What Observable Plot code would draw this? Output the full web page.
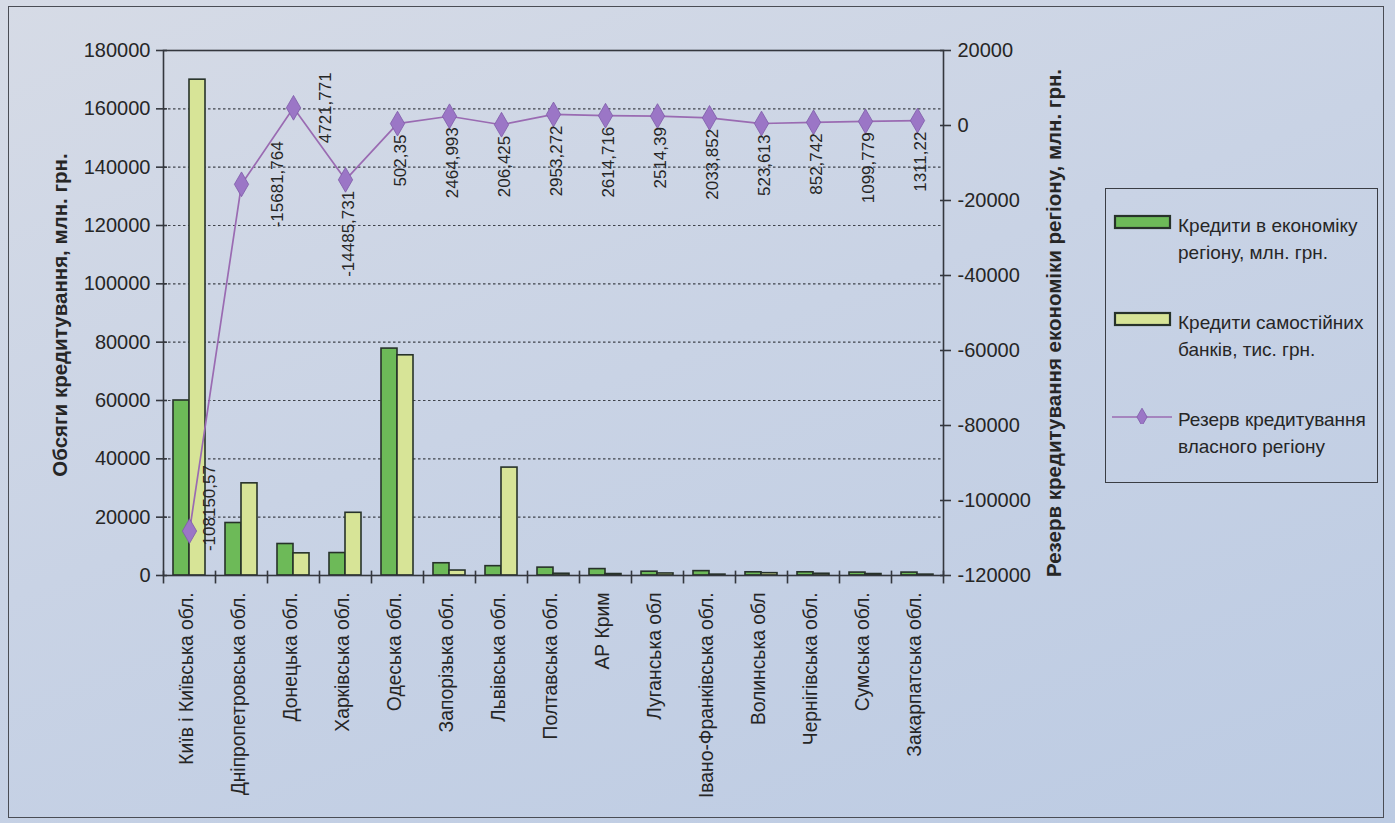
<!DOCTYPE html>
<html>
<head>
<meta charset="utf-8">
<script src="https://cdn.jsdelivr.net/npm/d3@7"></script>
<script src="https://cdn.jsdelivr.net/npm/@observablehq/plot@0.6"></script>
<style>
  html, body { margin: 0; padding: 0; }
  body {
    width: 1395px; height: 823px; overflow: hidden; position: relative;
    background: linear-gradient(160deg, #d6dbe6 0%, #c9d3e5 45%, #bccbe3 100%);
    font-family: "Liberation Sans", Arial, sans-serif; color: #262626;
  }
  #border {
    position: absolute; left: 8px; top: 6px; width: 1376px; height: 812px;
    border: 1.5px solid #4a4d55; box-sizing: border-box;
  }
  #chart { position: absolute; left: 0; top: 0; }
  #legend {
    position: absolute; left: 1105px; top: 188px; width: 273px; height: 295px;
    border: 1.5px solid #3a3d44; box-sizing: border-box;
    font-size: 19px; line-height: 27px;
  }
  .item { position: absolute; left: 6px; display: flex; align-items: flex-start; }
  .item svg { flex: none; margin-top: 2px; }
  .item span { margin-left: 6px; white-space: nowrap; }
</style>
</head>
<body>
<div id="border"></div>
<div id="chart"></div>
<div id="legend"></div>
<script>
// Regions of Ukraine (category axis)
const regions = [
  "Київ і Київська обл.", "Дніпропетровська обл.", "Донецька обл.", "Харківська обл.",
  "Одеська обл.", "Запорізька обл.", "Львівська обл.", "Полтавська обл.", "АР Крим",
  "Луганська обл", "Івано-Франківська обл.", "Волинська обл", "Чернігівська обл.",
  "Сумська обл.", "Закарпатська обл."
];
// Loans to the regional economy, mln UAH (left axis)
const economyCredits = [60000, 18000, 10800, 7700, 77800, 4200, 3200, 2700, 2200, 1300, 1500, 1100, 1100, 1000, 1000];
// Loans of independent banks, thous. UAH (left axis)
const bankCredits = [170000, 31600, 7600, 21500, 75500, 1700, 37000, 600, 500, 700, 300, 800, 600, 500, 300];
// Lending reserve of the region's own economy, mln UAH (right axis)
const reserve = [-108150.57, -15681.764, 4721.771, -14485.731, 502.35, 2464.993, 206.425,
  2953.272, 2614.716, 2514.39, 2033.852, 523.613, 852.742, 1099.779, 1311.22];

const leftTicks = d3.range(0, 180001, 20000);
const rightTicks = d3.range(-120000, 20001, 20000);
const leftTitle = "Обсяги кредитування, млн. грн.";
const rightTitle = "Резерв кредитування економіки регіону, млн. грн.";
const legendItems = [
  ["Кредити в економіку", "регіону, млн. грн."],
  ["Кредити самостійних", "банків, тис. грн."],
  ["Резерв кредитування", "власного регіону"]
];

const rows = regions.map((region, i) => ({
  region, economy: economyCredits[i], banks: bankCredits[i], reserve: reserve[i]
}));

// The right axis [-120000, 20000] shares the frame with the left axis [0, 180000]
const L0 = 0, L1 = 180000, R0 = -120000, R1 = 20000;
const toLeft = v => L0 + (v - R0) * (L1 - L0) / (R1 - R0);
const fromLeft = v => R0 + (v - L0) * (R1 - R0) / (L1 - L0);
const fmtComma = v => String(v).replace(".", ",");

const GREEN = "#6dba58", YELLOW = "#d7e497", OUTLINE = "#27322a";
const PURPLE = "#9a6bb2", DIAMOND = "#9b76c6";
const INK = "#262626", AXIS = "#34373e";

// Labels set beside the point (offset dx, dy) instead of beneath it
const labelRight = new Map([[regions[0], [20, -23]], [regions[1], [36, 0]], [regions[2], [32, 0]]]);
const besideRows = rows.filter(d => labelRight.has(d.region));

const chart = Plot.plot({
  width: 1395, height: 823,
  marginLeft: 163, marginRight: 452, marginTop: 50, marginBottom: 248,
  style: { background: "transparent", fontFamily: "Liberation Sans, Arial, sans-serif", color: INK },
  x: { domain: regions, padding: 0, axis: null },
  y: { domain: [L0, L1], axis: null },
  marks: [
    Plot.gridY(leftTicks.slice(1, -1), { stroke: "#30333a", strokeOpacity: 0.9, strokeWidth: 1.2, strokeDasharray: "2.5,2.5" }),
    // clustered bars
    Plot.barY(rows, { x: "region", y: "economy", fill: GREEN, stroke: OUTLINE, strokeWidth: 1.6, insetLeft: 10, insetRight: 26 }),
    Plot.barY(rows, { x: "region", y: "banks", fill: YELLOW, stroke: OUTLINE, strokeWidth: 1.6, insetLeft: 26, insetRight: 10 }),
    Plot.frame({ stroke: AXIS, strokeWidth: 1.6 }),
    // category separators crossing the bottom axis
    Plot.ruleX(rows, { x: "region", dx: -26, y1: -2900, y2: 1500, stroke: AXIS, strokeWidth: 1.6 }),
    Plot.ruleX(rows.slice(-1), { x: "region", dx: 26, y1: -2900, y2: 1500, stroke: AXIS, strokeWidth: 1.6 }),
    // left axis
    Plot.axisY({ ticks: leftTicks, anchor: "left", tickSize: 11, dx: 4, tickFormat: () => "", stroke: AXIS, strokeWidth: 1.6 }),
    Plot.axisY({ ticks: leftTicks, anchor: "left", tickSize: 0, tickPadding: 13, tickFormat: d => String(d), fontSize: 20, fill: INK, label: null }),
    // right axis
    Plot.axisY({ ticks: rightTicks.map(toLeft), anchor: "right", tickSize: 11, dx: -4, tickFormat: () => "", stroke: AXIS, strokeWidth: 1.6 }),
    Plot.axisY({ ticks: rightTicks.map(toLeft), anchor: "right", tickSize: 0, tickPadding: 14, tickFormat: d => String(Math.round(fromLeft(d))), fontSize: 20, fill: INK, label: null }),
    // category labels
    Plot.axisX({ anchor: "bottom", tickSize: 0, tickPadding: 17, tickRotate: -90, dx: -3, fontSize: 19.3, fill: INK, label: null }),
    // axis titles
    Plot.text([leftTitle], { frameAnchor: "left", textAnchor: "middle", dx: -103, dy: 2, rotate: -90, fontSize: 20.5, fontWeight: "bold", fill: INK }),
    Plot.text([rightTitle], { frameAnchor: "right", textAnchor: "middle", dx: 111, dy: 10, rotate: -90, fontSize: 20.5, fontWeight: "bold", fill: INK }),
    // reserve line on the right axis
    Plot.line(rows, { x: "region", y: d => toLeft(d.reserve), stroke: PURPLE, strokeWidth: 1.7 }),
    Plot.dot(rows, { x: "region", y: d => toLeft(d.reserve), symbol: "diamond", r: 7.5, fill: DIAMOND, stroke: "#7e5aa8", strokeWidth: 0.8 }),
    Plot.text(rows.filter(d => !labelRight.has(d.region)), {
      x: "region", y: d => toLeft(d.reserve), text: d => fmtComma(d.reserve),
      rotate: -90, textAnchor: "end", dx: 3, dy: 11, fontSize: 17, fill: INK
    }),
    ...besideRows.map(d => Plot.text([d], {
      x: "region", y: r => toLeft(r.reserve), text: r => fmtComma(r.reserve),
      rotate: -90, textAnchor: "middle", dx: labelRight.get(d.region)[0], dy: labelRight.get(d.region)[1],
      fontSize: 17, fill: INK
    }))
  ]
});
document.getElementById("chart").append(chart);

// legend
const legend = d3.select("#legend");
const swatches = [
  { fill: GREEN, kind: "bar" },
  { fill: YELLOW, kind: "bar" },
  { fill: DIAMOND, kind: "line" }
];
legendItems.forEach((lines, i) => {
  const item = legend.append("div").attr("class", "item").style("top", (23 + i * 97) + "px");
  const svg = item.append("svg").attr("width", 60).attr("height", 16);
  const s = swatches[i];
  if (s.kind === "bar") {
    svg.append("rect").attr("x", 3).attr("y", 2).attr("width", 55).attr("height", 12)
      .attr("fill", s.fill).attr("stroke", OUTLINE).attr("stroke-width", 2.2);
  } else {
    svg.append("line").attr("x1", 0).attr("x2", 60).attr("y1", 9).attr("y2", 9)
      .attr("stroke", PURPLE).attr("stroke-width", 1.7);
    svg.append("path").attr("d", d3.symbol(d3.symbolDiamond, 90)()).attr("transform", "translate(30,9)")
      .attr("fill", DIAMOND).attr("stroke", "#7e5aa8").attr("stroke-width", 0.8);
  }
  item.append("span").html(lines.join("<br>"));
});
</script>
</body>
</html>
